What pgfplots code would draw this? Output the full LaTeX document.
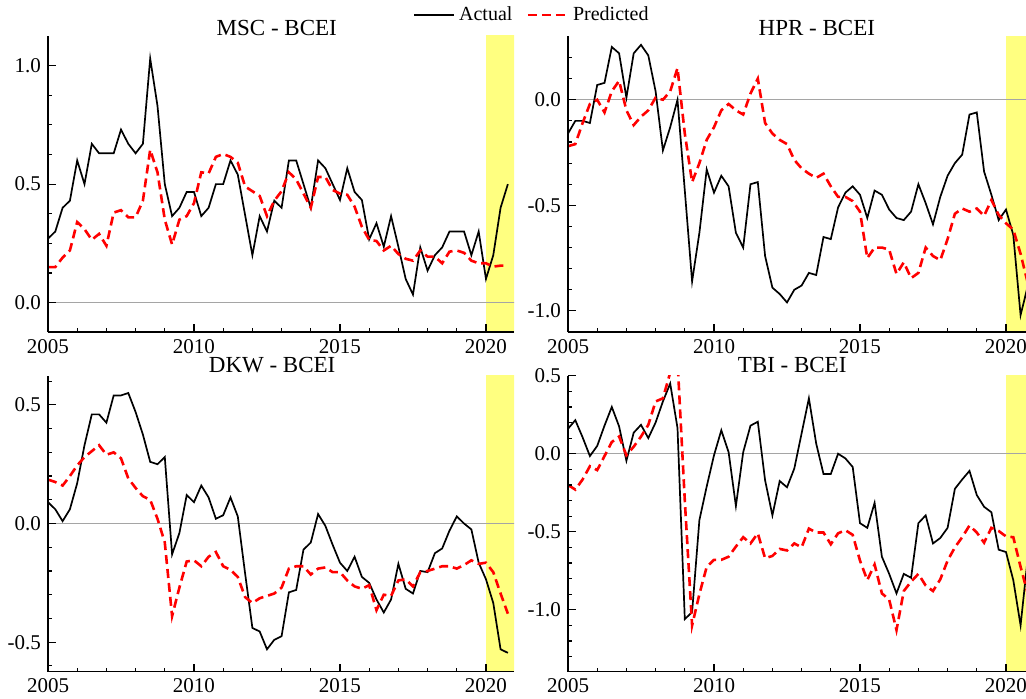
\documentclass[border=0pt]{standalone}
\usepackage{fontspec}
\setmainfont{Liberation Serif}
\usepackage{pgfplots}
\usepackage{pgfplotstable}
\pgfplotsset{compat=1.18}
\definecolor{band}{RGB}{255,255,128}
\definecolor{zline}{RGB}{165,165,165}

\pgfplotstableread{
t a p
2005.00 0.27 0.15
2005.25 0.30 0.15
2005.50 0.40 0.19
2005.75 0.43 0.22
2006.00 0.60 0.34
2006.25 0.50 0.31
2006.50 0.67 0.265
2006.75 0.63 0.29
2007.00 0.63 0.24
2007.25 0.63 0.38
2007.50 0.73 0.39
2007.75 0.67 0.36
2008.00 0.63 0.36
2008.25 0.67 0.43
2008.50 1.03 0.645
2008.75 0.83 0.55
2009.00 0.50 0.35
2009.25 0.365 0.245
2009.50 0.40 0.35
2009.75 0.467 0.365
2010.00 0.467 0.42
2010.25 0.365 0.55
2010.50 0.40 0.545
2010.75 0.50 0.615
2011.00 0.50 0.627
2011.25 0.60 0.615
2011.50 0.54 0.59
2011.75 0.37 0.49
2012.00 0.20 0.47
2012.25 0.365 0.45
2012.50 0.30 0.365
2012.75 0.43 0.43
2013.00 0.40 0.47
2013.25 0.60 0.55
2013.50 0.60 0.52
2013.75 0.50 0.46
2014.00 0.40 0.40
2014.25 0.60 0.53
2014.50 0.567 0.53
2014.75 0.50 0.475
2015.00 0.433 0.46
2015.25 0.567 0.455
2015.50 0.467 0.405
2015.75 0.433 0.32
2016.00 0.267 0.265
2016.25 0.335 0.26
2016.50 0.236 0.22
2016.75 0.365 0.24
2017.00 0.236 0.205
2017.25 0.10 0.185
2017.50 0.034 0.177
2017.75 0.233 0.22
2018.00 0.135 0.194
2018.25 0.20 0.194
2018.50 0.233 0.166
2018.75 0.30 0.215
2019.00 0.30 0.22
2019.25 0.30 0.21
2019.50 0.20 0.177
2019.75 0.30 0.166
2020.00 0.10 0.166
2020.25 0.20 0.152
2020.50 0.40 0.156
2020.75 0.50 0.156
}\msc

\pgfplotstableread{
t a p
2005.00 -0.16 -0.22
2005.25 -0.10 -0.21
2005.50 -0.10 -0.11
2005.75 -0.11 -0.02
2006.00 0.07 0.00
2006.25 0.08 -0.06
2006.50 0.25 0.04
2006.75 0.22 0.09
2007.00 0.01 -0.05
2007.25 0.22 -0.12
2007.50 0.26 -0.08
2007.75 0.21 -0.05
2008.00 0.04 0.01
2008.25 -0.24 0.00
2008.50 -0.13 0.04
2008.75 0.00 0.15
2009.00 -0.43 -0.16
2009.25 -0.86 -0.39
2009.50 -0.63 -0.30
2009.75 -0.33 -0.19
2010.00 -0.44 -0.13
2010.25 -0.36 -0.05
2010.50 -0.41 -0.02
2010.75 -0.63 -0.05
2011.00 -0.70 -0.07
2011.25 -0.40 0.03
2011.50 -0.39 0.10
2011.75 -0.74 -0.11
2012.00 -0.89 -0.16
2012.25 -0.92 -0.19
2012.50 -0.96 -0.21
2012.75 -0.90 -0.285
2013.00 -0.88 -0.325
2013.25 -0.82 -0.35
2013.50 -0.83 -0.37
2013.75 -0.65 -0.35
2014.00 -0.66 -0.41
2014.25 -0.51 -0.46
2014.50 -0.44 -0.46
2014.75 -0.41 -0.48
2015.00 -0.45 -0.53
2015.25 -0.56 -0.75
2015.50 -0.43 -0.70
2015.75 -0.45 -0.70
2016.00 -0.52 -0.71
2016.25 -0.56 -0.825
2016.50 -0.57 -0.77
2016.75 -0.53 -0.845
2017.00 -0.40 -0.82
2017.25 -0.49 -0.70
2017.50 -0.59 -0.74
2017.75 -0.46 -0.76
2018.00 -0.36 -0.66
2018.25 -0.30 -0.54
2018.50 -0.26 -0.515
2018.75 -0.07 -0.53
2019.00 -0.06 -0.515
2019.25 -0.34 -0.55
2019.50 -0.45 -0.475
2019.75 -0.57 -0.545
2020.00 -0.52 -0.585
2020.25 -0.64 -0.615
2020.50 -1.02 -0.73
2020.75 -0.88 -0.87
}\hpr

\pgfplotstableread{
t a p
2005.00 0.09 0.185
2005.25 0.06 0.175
2005.50 0.01 0.16
2005.75 0.06 0.20
2006.00 0.17 0.245
2006.25 0.33 0.28
2006.50 0.46 0.305
2006.75 0.46 0.33
2007.00 0.425 0.29
2007.25 0.54 0.30
2007.50 0.54 0.275
2007.75 0.55 0.19
2008.00 0.47 0.15
2008.25 0.375 0.115
2008.50 0.26 0.10
2008.75 0.25 0.02
2009.00 0.28 -0.08
2009.25 -0.13 -0.39
2009.50 -0.04 -0.27
2009.75 0.12 -0.16
2010.00 0.09 -0.155
2010.25 0.16 -0.18
2010.50 0.11 -0.14
2010.75 0.02 -0.12
2011.00 0.035 -0.18
2011.25 0.11 -0.195
2011.50 0.03 -0.225
2011.75 -0.21 -0.31
2012.00 -0.44 -0.335
2012.25 -0.455 -0.315
2012.50 -0.53 -0.305
2012.75 -0.49 -0.295
2013.00 -0.475 -0.27
2013.25 -0.29 -0.19
2013.50 -0.28 -0.18
2013.75 -0.11 -0.18
2014.00 -0.08 -0.215
2014.25 0.04 -0.19
2014.50 -0.01 -0.185
2014.75 -0.09 -0.205
2015.00 -0.165 -0.205
2015.25 -0.20 -0.24
2015.50 -0.14 -0.265
2015.75 -0.225 -0.275
2016.00 -0.25 -0.26
2016.25 -0.32 -0.365
2016.50 -0.375 -0.30
2016.75 -0.32 -0.305
2017.00 -0.17 -0.24
2017.25 -0.275 -0.235
2017.50 -0.295 -0.265
2017.75 -0.20 -0.205
2018.00 -0.205 -0.20
2018.25 -0.125 -0.19
2018.50 -0.105 -0.18
2018.75 -0.03 -0.18
2019.00 0.03 -0.19
2019.25 0.00 -0.175
2019.50 -0.025 -0.155
2019.75 -0.165 -0.17
2020.00 -0.235 -0.165
2020.25 -0.335 -0.205
2020.50 -0.53 -0.295
2020.75 -0.545 -0.38
}\dkw

\pgfplotstableread{
t a p
2005.00 0.16 -0.20
2005.25 0.215 -0.23
2005.50 0.105 -0.165
2005.75 -0.015 -0.08
2006.00 0.05 -0.105
2006.25 0.18 -0.015
2006.50 0.30 0.075
2006.75 0.175 0.11
2007.00 -0.045 -0.01
2007.25 0.135 0.045
2007.50 0.185 0.11
2007.75 0.10 0.185
2008.00 0.20 0.335
2008.25 0.335 0.355
2008.50 0.45 0.52
2008.75 0.165 0.60
2009.00 -1.06 -0.30
2009.25 -1.015 -1.10
2009.50 -0.425 -0.90
2009.75 -0.21 -0.725
2010.00 -0.01 -0.68
2010.25 0.15 -0.68
2010.50 0.01 -0.66
2010.75 -0.335 -0.595
2011.00 0.01 -0.535
2011.25 0.18 -0.575
2011.50 0.205 -0.51
2011.75 -0.17 -0.67
2012.00 -0.395 -0.655
2012.25 -0.175 -0.61
2012.50 -0.215 -0.62
2012.75 -0.095 -0.575
2013.00 0.13 -0.60
2013.25 0.355 -0.48
2013.50 0.065 -0.505
2013.75 -0.13 -0.505
2014.00 -0.13 -0.58
2014.25 0.00 -0.51
2014.50 -0.03 -0.49
2014.75 -0.085 -0.52
2015.00 -0.445 -0.685
2015.25 -0.475 -0.81
2015.50 -0.315 -0.71
2015.75 -0.66 -0.895
2016.00 -0.77 -0.935
2016.25 -0.895 -1.13
2016.50 -0.77 -0.88
2016.75 -0.795 -0.82
2017.00 -0.445 -0.77
2017.25 -0.395 -0.845
2017.50 -0.575 -0.88
2017.75 -0.54 -0.805
2018.00 -0.475 -0.685
2018.25 -0.225 -0.60
2018.50 -0.165 -0.535
2018.75 -0.11 -0.46
2019.00 -0.265 -0.505
2019.25 -0.34 -0.57
2019.50 -0.375 -0.475
2019.75 -0.615 -0.495
2020.00 -0.63 -0.53
2020.25 -0.81 -0.535
2020.50 -1.10 -0.725
2020.75 -0.66 -0.90
}\tbi

\pgfplotsset{
  panel/.style={
    scale only axis, width=233pt, height=148pt,
    xmin=2005, xmax=2020.96,
    axis x line=bottom, axis y line=left,
    axis line style={-, line width=0.6pt, black},
    every outer x axis line/.append style={-},
    every outer y axis line/.append style={-},
    xtick pos=bottom, ytick pos=left,
    tick align=inside,
    major tick length=4pt, minor tick length=2pt,
    every tick/.style={black, line width=0.6pt},
    every minor tick/.style={black, line width=0.6pt},
    xtick={2005,2010,2015,2020}, xticklabels={2005,2010,2015,2020},
    minor xtick={2006,2007,2008,2009,2011,2012,2013,2014,2016,2017,2018,2019},
    /pgf/number format/assume math mode=true,
    yticklabel style={/pgf/number format/.cd, fixed, fixed zerofill, precision=1},
    ticklabel style={font=\fontsize{10.5}{12}\selectfont},
    every axis title shift=0pt,
    title style={font=\fontsize{11.5}{13}\selectfont, anchor=base},
    axis on top=true,
    clip=true,
  },
  act/.style={black, line width=0.85pt},
  pred/.style={red, line width=1.3pt, dash pattern=on 4.5pt off 2.5pt},
}

\begin{document}
\begin{tikzpicture}
\useasboundingbox (0,0) rectangle (513pt,349pt);
\clip (0,0) rectangle (513pt,349pt);

% MSC
\begin{axis}[panel, at={(24pt,183pt)}, anchor=south west,
  ymin=-0.124, ymax=1.125, ytick={0,0.5,1},
  minor ytick={0.125,0.25,0.375,0.625,0.75,0.875},
  title={MSC - BCEI}, title style={at={(0.491,1)}, yshift=0.3pt},
  legend style={at={(1.0408,1.071)}, anchor=center, draw=none, fill=none,
    legend columns=2, font=\fontsize{10}{12}\selectfont,
    /tikz/every even column/.append style={column sep=5pt}},
  legend image code/.code={\draw[#1] (0pt,0pt) -- (20pt,0pt);}]
\fill[band] (axis cs:2020,-5) rectangle (axis cs:2022,5);
\draw[zline, line width=0.7pt] (axis cs:2004,0) -- (axis cs:2022,0);
\addplot[act] table[x=t,y=a] {\msc};
\addlegendentry{Actual}
\addplot[pred] table[x=t,y=p] {\msc};
\addlegendentry{Predicted}
\end{axis}

% HPR
\begin{axis}[panel, at={(284pt,183pt)}, anchor=south west,
  ymin=-1.1, ymax=0.302, ytick={-1,-0.5,0},
  minor ytick={-0.9,-0.8,-0.7,-0.6,-0.4,-0.3,-0.2,-0.1,0.1,0.2},
  title={HPR - BCEI}, title style={at={(0.534,1)}, yshift=0.3pt}]
\fill[band] (axis cs:2020,-5) rectangle (axis cs:2022,5);
\draw[zline, line width=0.7pt] (axis cs:2004,0) -- (axis cs:2022,0);
\addplot[act] table[x=t,y=a] {\hpr};
\addplot[pred] table[x=t,y=p] {\hpr};
\end{axis}

% DKW
\begin{axis}[panel, at={(24pt,13.15pt)}, anchor=south west,
  ymin=-0.6245, ymax=0.623, ytick={-0.5,0,0.5},
  minor ytick={-0.6,-0.4,-0.3,-0.2,-0.1,0.1,0.2,0.3,0.4,0.6},
  title={DKW - BCEI}, title style={at={(0.481,1)}, yshift=1.5pt}]
\fill[band] (axis cs:2020,-5) rectangle (axis cs:2022,5);
\draw[zline, line width=0.7pt] (axis cs:2004,0) -- (axis cs:2022,0);
\addplot[act] table[x=t,y=a] {\dkw};
\addplot[pred] table[x=t,y=p] {\dkw};
\end{axis}

% TBI
\begin{axis}[panel, at={(284pt,13.15pt)}, anchor=south west,
  ymin=-1.397, ymax=0.5, ytick={-1,-0.5,0,0.5},
  minor ytick={-1.3,-1.2,-1.1,-0.9,-0.8,-0.7,-0.6,-0.4,-0.3,-0.2,-0.1,0.1,0.2,0.3,0.4},
  title={TBI - BCEI}, title style={at={(0.481,1)}, yshift=1.5pt}]
\fill[band] (axis cs:2020,-5) rectangle (axis cs:2022,5);
\draw[zline, line width=0.7pt] (axis cs:2004,0) -- (axis cs:2022,0);
\addplot[act] table[x=t,y=a] {\tbi};
\addplot[pred] table[x=t,y=p] {\tbi};
\end{axis}
\end{tikzpicture}
\end{document}
